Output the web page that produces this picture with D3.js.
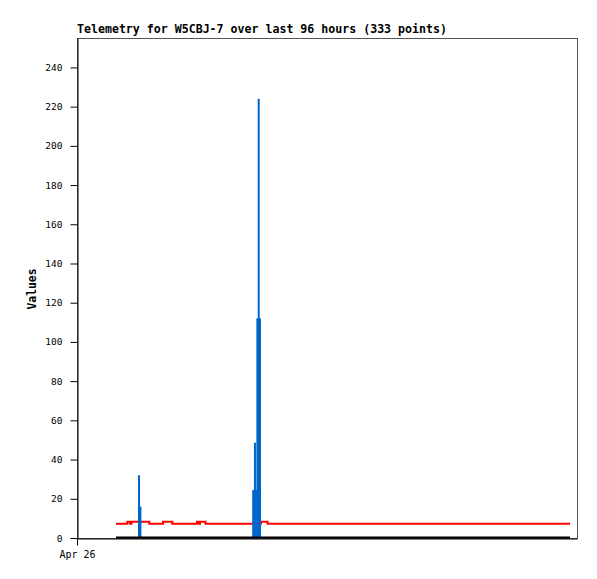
<!DOCTYPE html>
<html>
<head>
<meta charset="utf-8">
<script src="https://cdn.jsdelivr.net/npm/d3@7"></script>
<style>
  html, body { margin: 0; padding: 0; background: #fff; }
  svg { display: block; }
</style>
</head>
<body>
<svg id="chart" width="597" height="579"></svg>
<script>
// ---- data (hours after Apr 26 00:00) ----
const title = "Telemetry for W5CBJ-7 over last 96 hours (333 points)";
const yLabel = "Values";
const xTickLabels = ["Apr 26"];
const xTickHours = [0];
const yTicks = [0, 20, 40, 60, 80, 100, 120, 140, 160, 180, 200, 220, 240];

// red series: step change points [hour, value]
const redHours  = [8.25, 10.64, 11.2, 11.52, 15.29, 18.19, 20.15, 25.37, 25.8, 26.0, 27.17, 38.9, 40.3, 104.25];
const redValues = [7,    8,     7,    8,     7,     8,     7,     8,     7,    8,    7,     8,    7,    7];

// blue series: spikes [hour, value]
const blueHours  = [13.11, 13.41, 37.26, 37.63, 37.90, 38.14, 38.42, 38.70];
const blueValues = [32,    16,    24.5,  48.6,  24.5,  112,   224,   112];

// black series: zero line
const blackHours  = [8.25, 104.25];
const blackValues = [0, 0];

const startDate = new Date(2023, 3, 26, 0, 0, 0);
const hoursSpan = 105.73;
const yMax = 255;

// ---- drawing ----
const svg = d3.select("#chart");
const L = 77, R = 577, T = 38, B = 538;
const toDate = h => new Date(startDate.getTime() + h * 3600 * 1000);

const x = d3.scaleTime().domain([startDate, toDate(hoursSpan)]).range([L, R]);
const y = d3.scaleLinear().domain([0, yMax]).range([B, T]);

const mono = "'DejaVu Sans Mono', 'Liberation Mono', monospace";

// frame
svg.append("rect")
  .attr("x", L + 0.5).attr("y", T + 0.5)
  .attr("width", R - L).attr("height", B - T)
  .attr("fill", "none").attr("stroke", "#555").attr("stroke-width", 1);

// title
svg.append("text")
  .attr("x", L).attr("y", T - 5)
  .attr("font-family", mono).attr("font-weight", "bold").attr("font-size", "11.6px")
  .attr("fill", "#000")
  .text(title);

// y label
svg.append("text")
  .attr("transform", `translate(36, ${(T + B) / 2 + 1}) rotate(-90)`)
  .attr("text-anchor", "middle")
  .attr("font-family", mono).attr("font-weight", "bold").attr("font-size", "11.4px")
  .attr("fill", "#000")
  .text(yLabel);

// y axis
const yAxis = d3.axisLeft(y).tickValues(yTicks).tickSize(7).tickPadding(8).tickSizeOuter(0);
const gy = svg.append("g").attr("transform", `translate(${L + 0.5},0)`).call(yAxis);
gy.selectAll("text").attr("font-family", mono).attr("font-size", "9.5px").attr("fill", "#000");
gy.selectAll("line, path").attr("stroke", "#000");

// x axis
const xAxis = d3.axisBottom(x)
  .tickValues(xTickHours.map(toDate))
  .tickFormat((d, i) => xTickLabels[i])
  .tickSize(7).tickPadding(5).tickSizeOuter(0);
const gx = svg.append("g").attr("transform", `translate(0,${B + 0.5})`).call(xAxis);
gx.selectAll("text").attr("font-family", mono).attr("font-size", "10px").attr("fill", "#000");
gx.selectAll("line, path").attr("stroke", "#000");

// red series
const redData = redHours.map((h, i) => [toDate(h), redValues[i]]);
svg.append("path")
  .datum(redData)
  .attr("fill", "none").attr("stroke", "#ff0000").attr("stroke-width", 2)
  .attr("d", d3.line().x(d => x(d[0])).y(d => y(d[1]) - 0.5).curve(d3.curveStepAfter));

// blue spikes
const blueData = blueHours.map((h, i) => [toDate(h), blueValues[i]]);
svg.append("g").selectAll("rect")
  .data(blueData)
  .join("rect")
  .attr("x", d => x(d[0]) - 1)
  .attr("width", 2)
  .attr("y", d => y(d[1]))
  .attr("height", d => y(0) - y(d[1]))
  .attr("fill", "#0066cc");

// black zero series
const blackData = blackHours.map((h, i) => [toDate(h), blackValues[i]]);
svg.append("path")
  .datum(blackData)
  .attr("fill", "none").attr("stroke", "#000").attr("stroke-width", 2)
  .attr("d", d3.line().x(d => x(d[0])).y(d => y(d[1]) - 0.5));
</script>
</body>
</html>
